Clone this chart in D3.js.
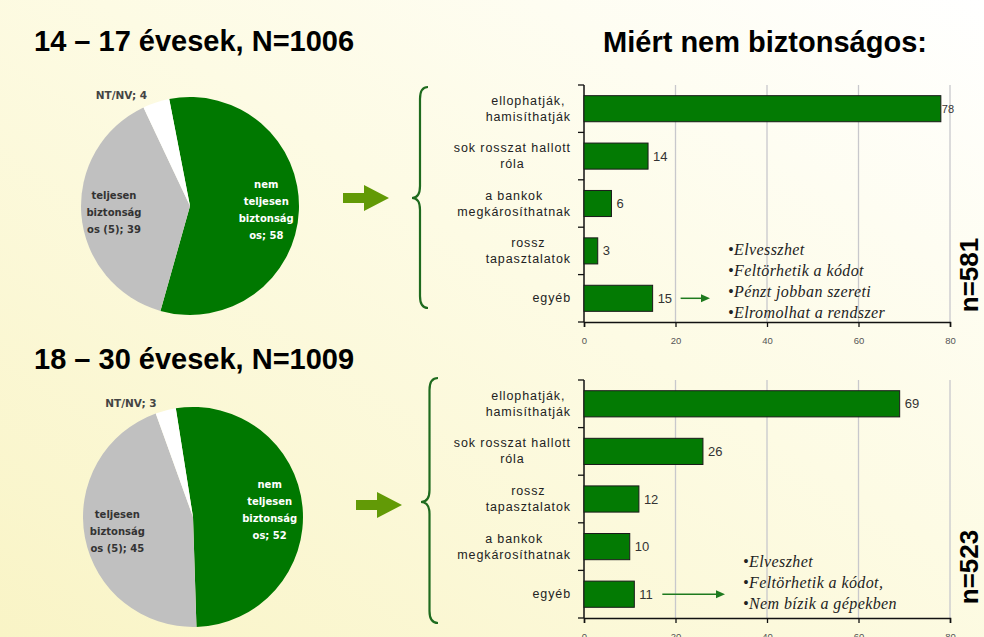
<!DOCTYPE html>
<meta charset="utf-8">
<style>
body { margin: 0; }
svg { display: block; font-family: "Liberation Sans", Arial, sans-serif; }
</style>
<body>
<script src="https://d3js.org/d3.v7.min.js"></script>
<script>

// ---- data ----
var titles = ["14 – 17 évesek, N=1006", "18 – 30 évesek, N=1009"];
var barTitle = "Miért nem biztonságos:";

// pie slices, clockwise: green, gray, white
var pieNames = ["nem|teljesen|biztonság|os", "teljesen|biztonság|os (5)", "NT/NV"];
var pieTop = [58, 39, 4];
var pieBottom = [52, 45, 3];

var catsTop = ["ellophatják,|hamisíthatják", "sok rosszat hallott|róla", "a bankok|megkárosíthatnak", "rossz|tapasztalatok", "egyéb"];
var valuesTop = [78, 14, 6, 3, 15];
var catsBottom = ["ellophatják,|hamisíthatják", "sok rosszat hallott|róla", "rossz|tapasztalatok", "a bankok|megkárosíthatnak", "egyéb"];
var valuesBottom = [69, 26, 12, 10, 11];
var xTicks = [0, 20, 40, 60, 80];

var nLabels = ["n=581", "n=523"];
var notesTop = ["Elvesszhet", "Feltörhetik a kódot", "Pénzt jobban szereti", "Elromolhat a rendszer"];
var notesBottom = ["Elveszhet", "Feltörhetik a kódot,", "Nem bízik a gépekben"];

var width = 984, height = 637;
var pieColors = ["#007800", "#c0c0c0", "#ffffff"];
var pieText = ["#ffffff", "#333333", "#444444"];

var svg = d3.select("body").append("svg")
    .attr("width", width)
    .attr("height", height);

// background gradient
var grad = svg.append("defs").append("linearGradient")
    .attr("id", "bg")
    .attr("x1", 0).attr("y1", 1)
    .attr("x2", 1).attr("y2", 0);
grad.append("stop").attr("offset", "0%").attr("stop-color", "#f9f4c6");
grad.append("stop").attr("offset", "55%").attr("stop-color", "#fdfbe4");
grad.append("stop").attr("offset", "100%").attr("stop-color", "#ffffff");
svg.append("rect").attr("width", width).attr("height", height).attr("fill", "url(#bg)");

// bar title
svg.append("text")
    .attr("x", 765).attr("y", 52)
    .attr("text-anchor", "middle")
    .style("font-size", "29px").style("font-weight", "bold")
    .text(barTitle);

var x = d3.scaleLinear().domain([0, 80]).range([584, 950]);

var panels = [
  {title: titles[0], titleY: 51, pie: pieTop, cx: 190, cy: 206, r: 109, rot: -11,
   arrowX: 343, arrowY: 198, brace: [412, 428, 87, 198, 308],
   cats: catsTop, values: valuesTop, top: 85, bottom: 322,
   n: nLabels[0], nY: 275, notes: notesTop, noteX: 728, noteY: 250},
  {title: titles[1], titleY: 369, pie: pieBottom, cx: 193, cy: 517, r: 110, rot: -9,
   arrowX: 356, arrowY: 505, brace: [421, 438, 378, 502, 623],
   cats: catsBottom, values: valuesBottom, top: 380, bottom: 618,
   n: nLabels[1], nY: 567, notes: notesBottom, noteX: 743, noteY: 562}
];

panels.forEach(function(p) {

  // title
  svg.append("text")
      .attr("x", 34).attr("y", p.titleY)
      .style("font-size", "29px").style("font-weight", "bold")
      .text(p.title);

  // pie
  var pie = d3.pie().sort(null)
      .startAngle(p.rot * Math.PI / 180)
      .endAngle(p.rot * Math.PI / 180 + 2 * Math.PI);
  var arcs = pie(p.pie);
  var arc = d3.arc().innerRadius(0).outerRadius(p.r);
  var labelArc = d3.arc().innerRadius(p.r * 0.7).outerRadius(p.r * 0.7);
  var g = svg.append("g").attr("transform", "translate(" + p.cx + "," + p.cy + ")");

  g.selectAll("path")
    .data(arcs)
    .enter().append("path")
      .attr("d", arc)
      .attr("fill", function(d, i) { return pieColors[i]; });

  arcs.forEach(function(d, i) {
    var lines = pieNames[i].split("|");
    lines[lines.length - 1] += "; " + d.value;
    var t = g.append("text")
        .style("font-family", "'DejaVu Sans', Verdana, sans-serif")
        .style("font-weight", "bold")
        .attr("fill", pieText[i]);
    if (i < 2) {
      var c = labelArc.centroid(d);
      t.attr("text-anchor", "middle").style("font-size", "10px");
      lines.forEach(function(l, k) {
        t.append("tspan")
            .attr("x", c[0])
            .attr("y", c[1] + (k - (lines.length - 1) / 2) * 17 + 4)
            .text(l);
      });
    } else {
      // small slice: label outside, left of the slice
      var a = (d.startAngle + d.endAngle) / 2;
      var ox = Math.sin(a) * p.r, oy = -Math.cos(a) * p.r;
      t.attr("text-anchor", "end").style("font-size", "10.5px")
          .attr("x", ox - 9).attr("y", oy - 3)
          .text(lines[0]);
    }
  });

  // block arrow
  var ax = p.arrowX, ay = p.arrowY;
  svg.append("path")
      .attr("d", "M" + ax + "," + (ay - 5) + "H" + (ax + 21) + "V" + (ay - 13) +
                 "L" + (ax + 46) + "," + ay + "L" + (ax + 21) + "," + (ay + 13) +
                 "V" + (ay + 5) + "H" + ax + "Z")
      .attr("fill", "#629a06");

  // curly brace
  var b = p.brace, x0 = b[0], x1 = b[1], xm = x0 + (x1 - x0) * 0.5, rr = 12;
  svg.append("path")
      .attr("d", "M" + x1 + "," + b[2] +
                 "Q" + xm + "," + b[2] + " " + xm + "," + (b[2] + rr) +
                 "L" + xm + "," + (b[3] - rr) +
                 "Q" + xm + "," + b[3] + " " + x0 + "," + b[3] +
                 "Q" + xm + "," + b[3] + " " + xm + "," + (b[3] + rr) +
                 "L" + xm + "," + (b[4] - rr) +
                 "Q" + xm + "," + b[4] + " " + x1 + "," + b[4])
      .attr("fill", "none")
      .attr("stroke", "#1e6b1e")
      .attr("stroke-width", 2.2);

  // bar chart
  var y = d3.scaleBand().domain(p.cats).range([p.top, p.bottom])
      .paddingInner(0.45).paddingOuter(0.225);
  var step = y.step();

  // gridlines
  svg.selectAll(null)
    .data(xTicks.slice(1))
    .enter().append("line")
      .attr("x1", function(d) { return x(d); })
      .attr("x2", function(d) { return x(d); })
      .attr("y1", p.top).attr("y2", p.bottom)
      .attr("stroke", "#c8c8cc").attr("stroke-width", 1.3);

  // x axis
  var xAxis = svg.append("g")
      .attr("transform", "translate(0," + p.bottom + ")")
      .call(d3.axisBottom(x).tickValues(xTicks).tickSize(5).tickPadding(10));
  xAxis.select(".domain").attr("stroke", "#111").attr("stroke-width", 1.5);
  xAxis.selectAll(".tick line").attr("stroke", "#111").attr("stroke-width", 1.3);
  xAxis.selectAll("text").style("font-size", "9.5px").attr("fill", "#555");

  // category axis
  var edges = p.cats.map(function(c) { return y(c) - step * y.paddingInner() / 2; });
  edges.push(p.bottom);
  svg.append("line")
      .attr("x1", x(0)).attr("x2", x(0))
      .attr("y1", p.top).attr("y2", p.bottom)
      .attr("stroke", "#111").attr("stroke-width", 1.5);
  svg.selectAll(null)
    .data(edges)
    .enter().append("line")
      .attr("x1", x(0) - 6).attr("x2", x(0))
      .attr("y1", function(d) { return d; })
      .attr("y2", function(d) { return d; })
      .attr("stroke", "#111").attr("stroke-width", 1.3);

  // bars
  svg.selectAll(null)
    .data(p.values)
    .enter().append("rect")
      .attr("x", x(0))
      .attr("y", function(d, i) { return y(p.cats[i]); })
      .attr("width", function(d) { return x(d) - x(0); })
      .attr("height", y.bandwidth())
      .attr("fill", "#037a03")
      .attr("stroke", "#1a1a1a")
      .attr("stroke-width", 1);

  // value labels
  svg.selectAll(null)
    .data(p.values)
    .enter().append("text")
      .attr("x", function(d) { return x(d) + (x(d) > 930 ? 1 : 5); })
      .attr("y", function(d, i) { return y(p.cats[i]) + y.bandwidth() / 2 + 4.5; })
      .style("font-size", function(d) { return x(d) > 930 ? "11px" : "13px"; })
      .attr("fill", "#333")
      .text(function(d) { return d; });

  // category labels
  p.cats.forEach(function(c) {
    var lines = c.split("|");
    var t = svg.append("text")
        .style("font-size", "12.5px")
        .style("letter-spacing", "0.9px")
        .attr("fill", "#222");
    var spans = lines.map(function(l, k) {
      return t.append("tspan")
          .attr("y", y(c) + y.bandwidth() / 2 + 4 + (k - (lines.length - 1) / 2) * 16)
          .text(l);
    });
    var w = d3.max(spans, function(s) { return s.node().getComputedTextLength(); });
    spans.forEach(function(s) {
      s.attr("x", 571 - w / 2).attr("text-anchor", "middle");
    });
  });

  // arrow from "egyéb" to the notes
  var last = p.cats[p.cats.length - 1];
  var lastV = p.values[p.values.length - 1];
  var ly = y(last) + y.bandwidth() / 2;
  var lx0 = x(lastV) + 28, lx1 = p.noteX - 18;
  svg.append("line")
      .attr("x1", lx0).attr("x2", lx1 - 6)
      .attr("y1", ly).attr("y2", ly)
      .attr("stroke", "#1e7a1e").attr("stroke-width", 1.5);
  svg.append("path")
      .attr("d", "M" + lx1 + "," + ly + "l-9,-4v8z")
      .attr("fill", "#1e7a1e");

  // notes
  svg.selectAll(null)
    .data(p.notes)
    .enter().append("text")
      .attr("x", p.noteX)
      .attr("y", function(d, i) { return p.noteY + i * 21 + 5; })
      .style("font-family", "'Liberation Serif', 'Times New Roman', serif")
      .style("font-style", "italic")
      .style("font-size", "16px")
      .style("letter-spacing", "0.4px")
      .attr("fill", "#222")
      .text(function(d) { return "•" + d; });

  // n label
  svg.append("text")
      .attr("transform", "translate(978," + p.nY + ") rotate(-90)")
      .attr("text-anchor", "middle")
      .style("font-size", "26px").style("font-weight", "bold")
      .text(p.n);
});

</script>
</body>
